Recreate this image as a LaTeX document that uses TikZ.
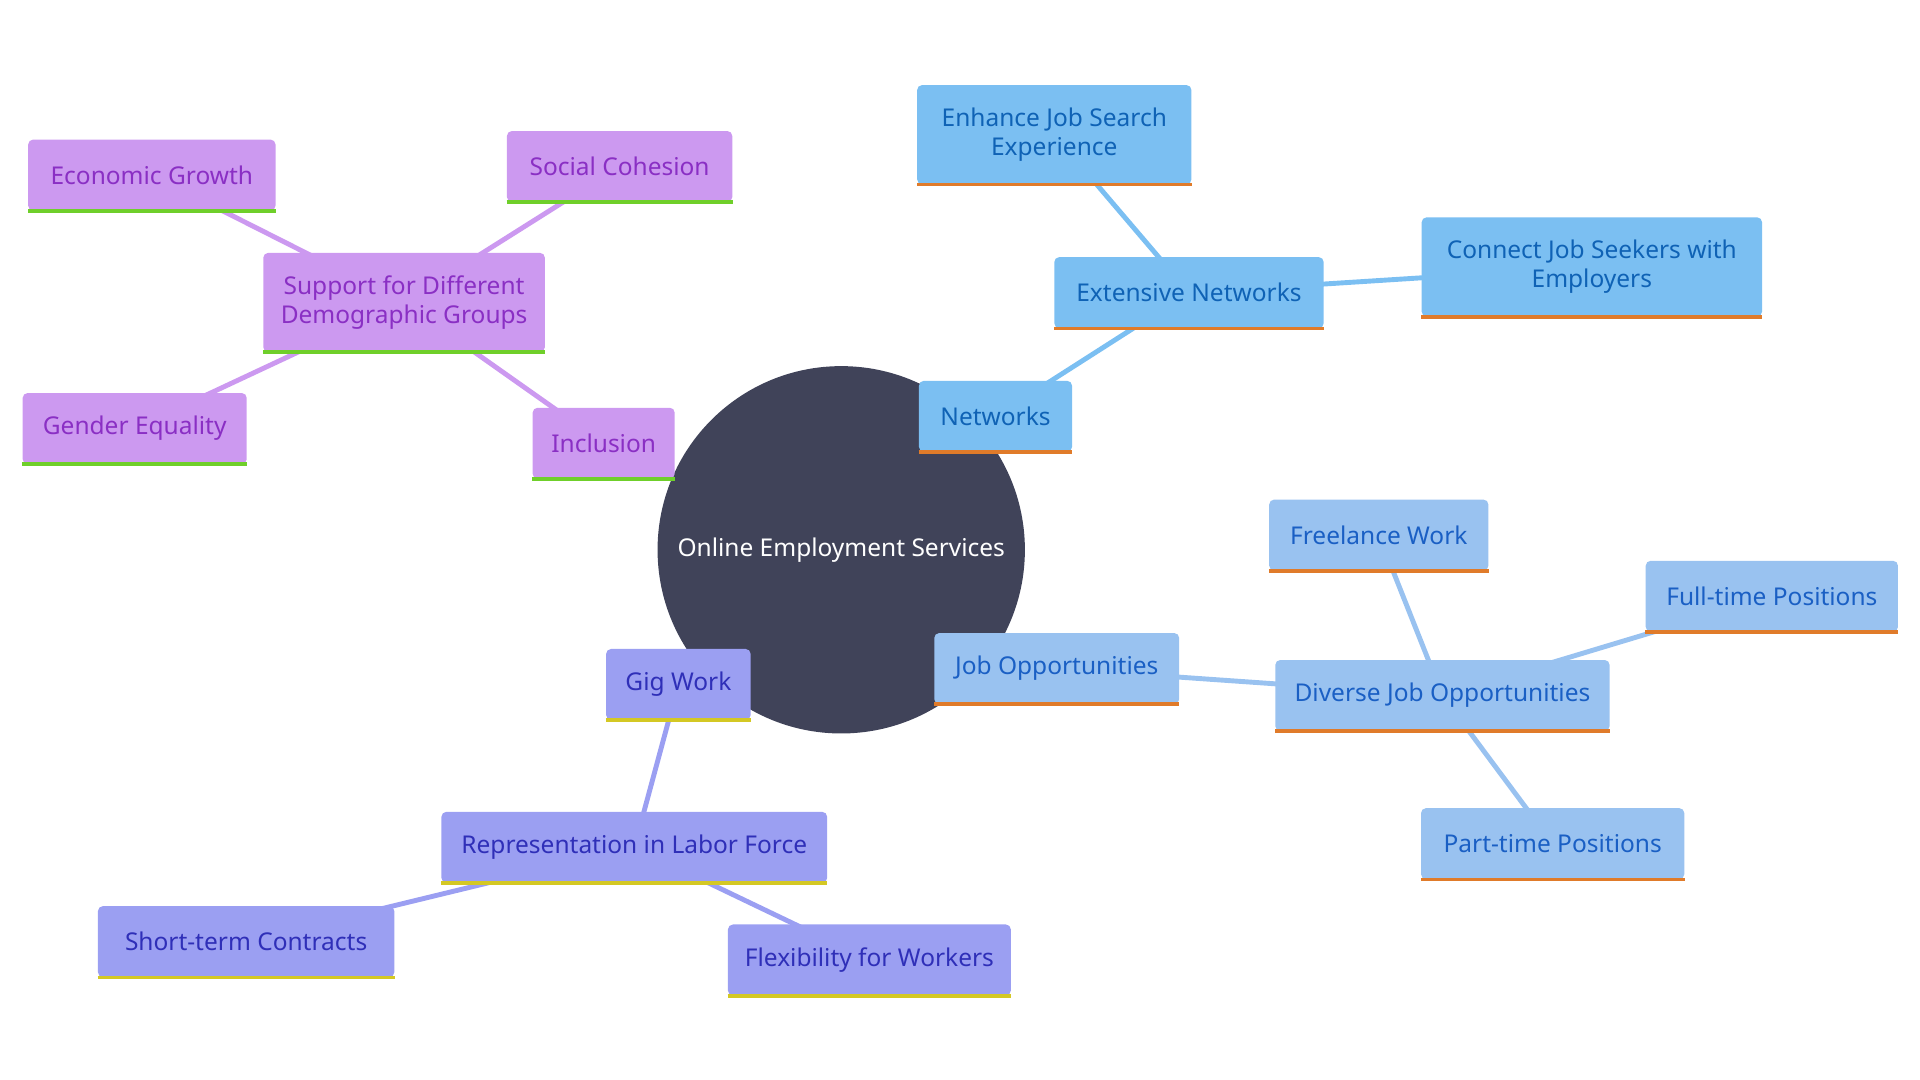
\documentclass[tikz,border=0pt]{standalone}
\usepackage{fontspec}
\setmainfont{Noto Sans}
\usetikzlibrary{backgrounds}
\definecolor{hubfill}{HTML}{404359}
\definecolor{netfill}{HTML}{7BBFF2}
\definecolor{netText}{HTML}{0F62B5}
\definecolor{jobfill}{HTML}{99C2F0}
\definecolor{jobText}{HTML}{1A5FC4}
\definecolor{gigfill}{HTML}{9B9FF2}
\definecolor{gigText}{HTML}{2F2FB8}
\definecolor{supfill}{HTML}{CC99F0}
\definecolor{supText}{HTML}{8A2FC4}
\definecolor{orangeLine}{HTML}{E07B2A}
\definecolor{yellowLine}{HTML}{D4C824}
\definecolor{greenLine}{HTML}{6FCF2A}
\tikzset{
  box/.style={rectangle, rounded corners=4pt, minimum height=58pt, align=center,
    font=\fontsize{20}{24}\selectfont, inner sep=0pt},
  net/.style={box, fill=netfill, text=netText},
  job/.style={box, fill=jobfill, text=jobText},
  gig/.style={box, fill=gigfill, text=gigText},
  sup/.style={box, fill=supfill, text=supText},
  link/.style={line width=4pt}
}
\begin{document}
\begin{tikzpicture}[x=1pt,y=-1pt]
\useasboundingbox (0,0) rectangle (1568,882);

% hub
\node[circle, fill=hubfill, minimum size=300pt, text=white, font=\fontsize{20}{24}\selectfont] (hub) at (687,449) {Online Employment Services};

% networks
\node[net, minimum width=125pt] (nets) at (813,340) {Networks};
\node[net, minimum width=220pt] (extNets) at (971,239) {Extensive Networks};
\node[net, minimum width=224pt, minimum height=81pt] (enhance) at (861,110) {Enhance Job Search\\Experience};
\node[net, minimum width=278pt, minimum height=81pt] (connect) at (1300,218) {Connect Job Seekers with\\Employers};

% job opportunities
\node[job, minimum width=200pt] (jobOpp) at (863,546) {Job Opportunities};
\node[job, minimum width=273pt] (diverse) at (1178,568) {Diverse Job Opportunities};
\node[job, minimum width=179pt] (freelance) at (1126,437) {Freelance Work};
\node[job, minimum width=206pt] (fullTime) at (1447,487) {Full-time Positions};
\node[job, minimum width=215pt] (partTime) at (1268,689) {Part-time Positions};

% gig work
\node[gig, minimum width=118pt] (gigWork) at (554,559) {Gig Work};
\node[gig, minimum width=315pt] (repr) at (518,692) {Representation in Labor Force};
\node[gig, minimum width=242pt] (shortTerm) at (201,769) {Short-term Contracts};
\node[gig, minimum width=231pt] (flex) at (710,784) {Flexibility for Workers};

% demographic support
\node[sup, minimum width=230pt, minimum height=81pt] (support) at (330,247) {Support for Different\\Demographic Groups};
\node[sup, minimum width=202pt] (econ) at (124,143) {Economic Growth};
\node[sup, minimum width=184pt] (social) at (506,136) {Social Cohesion};
\node[sup, minimum width=183pt] (gender) at (110,350) {Gender Equality};
\node[sup, minimum width=116pt] (inclusion) at (493,362) {Inclusion};

% bottom bars
\foreach \n in {nets,extNets,enhance,connect,jobOpp,diverse,freelance,fullTime,partTime}
  \draw[orangeLine, line width=3pt] (\n.south west) -- (\n.south east);
\foreach \n in {gigWork,repr,shortTerm,flex}
  \draw[yellowLine, line width=3pt] (\n.south west) -- (\n.south east);
\foreach \n in {support,econ,social,gender,inclusion}
  \draw[greenLine, line width=3pt] (\n.south west) -- (\n.south east);

% links
\begin{scope}[on background layer]
\draw[link, netfill] (nets.center) -- (extNets.center);
\foreach \n in {enhance,connect}
  \draw[link, netfill] (extNets.center) -- (\n.center);
\draw[link, jobfill] (jobOpp.center) -- (diverse.center);
\foreach \n in {freelance,fullTime,partTime}
  \draw[link, jobfill] (diverse.center) -- (\n.center);
\draw[link, gigfill] (gigWork.center) -- (repr.center);
\foreach \n in {shortTerm,flex}
  \draw[link, gigfill] (repr.center) -- (\n.center);
\foreach \n in {econ,social,gender,inclusion}
  \draw[link, supfill] (support.center) -- (\n.center);
\end{scope}
\end{tikzpicture}
\end{document}
